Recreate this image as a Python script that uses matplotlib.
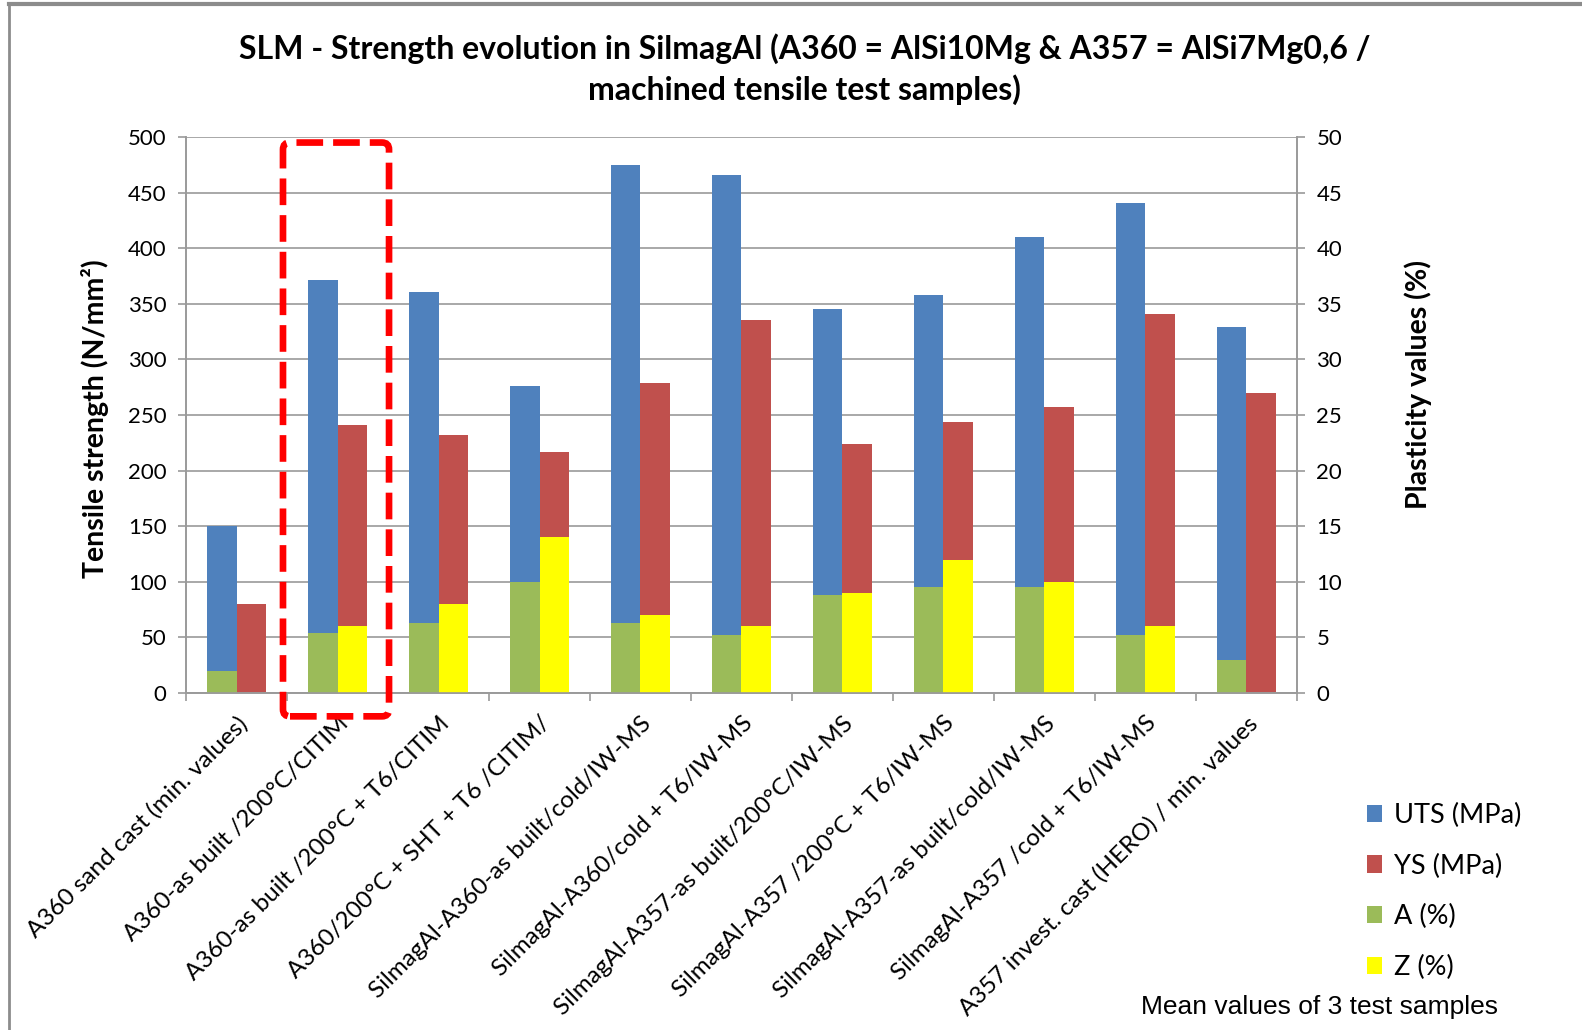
import numpy as np
import matplotlib.pyplot as plt
from matplotlib.patches import FancyBboxPatch
from matplotlib.transforms import IdentityTransform
from matplotlib.lines import Line2D

plt.rcParams['font.family'] = ['Lato', 'DejaVu Sans']

categories = [
    "A360 sand cast (min. values)",
    "A360-as built /200°C/CITIM",
    "A360-as built /200°C + T6/CITIM",
    "A360/200°C + SHT + T6 /CITIM/",
    "SilmagAl-A360-as built/cold/IW-MS",
    "SilmagAl-A360/cold + T6/IW-MS",
    "SilmagAl-A357-as built/200°C/IW-MS",
    "SilmagAl-A357 /200°C + T6/IW-MS",
    "SilmagAl-A357-as built/cold/IW-MS",
    "SilmagAl-A357 /cold + T6/IW-MS",
    "A357 invest. cast (HERO) / min. values",
]
uts = [150, 371, 361, 276, 475, 466, 345, 358, 410, 441, 329]
ys = [80, 241, 232, 217, 279, 335, 224, 244, 257, 341, 270]
elong = [2.0, 5.4, 6.3, 10.0, 6.3, 5.2, 8.8, 9.5, 9.5, 5.2, 3.0]
reduction = [0, 6.0, 8.0, 14.0, 7.0, 6.0, 9.0, 12.0, 10.0, 6.0, 0]

c_uts = '#4F81BD'
c_ys = '#C0504D'
c_a = '#9BBB59'
c_z = '#FFFF00'
grey = '#9a9a9a'

fig = plt.figure(figsize=(15.82, 10.30), dpi=100)
ax = fig.add_axes([0.1176, 0.3272, 0.7022, 0.5398])
ax2 = ax.twinx()

x = np.arange(len(categories))
w = 0.29

b_uts = ax.bar(x - w / 2, uts, w, color=c_uts, label='UTS (MPa)')
b_ys = ax.bar(x + w / 2, ys, w, color=c_ys, label='YS (MPa)')
b_a = ax2.bar(x - w / 2, elong, w, color=c_a, label='A (%)')
b_z = ax2.bar(x + w / 2, reduction, w, color=c_z, label='Z (%)')

ax.set_xlim(-0.5, len(categories) - 0.5)
ax.set_ylim(0, 500)
ax2.set_ylim(0, 50)
ax.set_yticks(np.arange(0, 501, 50))
ax2.set_yticks(np.arange(0, 51, 5))

ax.set_axisbelow(True)
ax.yaxis.grid(True, color=grey, lw=1.2)

# category names centred, tick marks on the boundaries
ax.set_xticks(x)
ax.set_xticklabels(categories, rotation=45, ha='right', va='top',
                   rotation_mode='anchor', fontsize=17.5)
ax.set_xticks(np.arange(-0.5, len(categories)), minor=True)
ax.tick_params(axis='x', which='major', length=0, pad=14)
ax.tick_params(axis='x', which='minor', length=6, color=grey, width=1.2)
ax.tick_params(axis='y', length=6, color=grey, width=1.2, labelsize=16, pad=8)
ax2.tick_params(axis='y', length=6, color=grey, width=1.2, labelsize=16, pad=8)

for a in (ax, ax2):
    a.spines['top'].set_visible(False)
    for s in ('left', 'right', 'bottom'):
        a.spines[s].set_color(grey)
        a.spines[s].set_linewidth(1.2)

ax.set_ylabel('Tensile strength (N/mm²)', fontsize=20.5, fontweight='bold')
ax.yaxis.set_label_coords(-0.069, 0.493)
ax2.set_ylabel('Plasticity values (%)', fontsize=20.5, fontweight='bold')
ax2.yaxis.set_label_coords(1.097, 0.554)

fig.text(0.5085, 0.953, 'SLM - Strength evolution in SilmagAl (A360 = AlSi10Mg & A357 = AlSi7Mg0,6 /',
         ha='center', va='center', fontsize=23, fontweight='bold')
fig.text(0.5085, 0.913, 'machined tensile test samples)',
         ha='center', va='center', fontsize=23, fontweight='bold')

fig.legend(handles=[b_uts, b_ys, b_a, b_z], loc='upper left',
           bbox_to_anchor=(0.857, 0.231), frameon=False, fontsize=19.5,
           handlelength=0.55, handleheight=0.6, handletextpad=0.45,
           labelspacing=0.94, borderaxespad=0)

fig.text(0.7215, 0.022, 'Mean values of 3 test samples', fontsize=19,
         family='Liberation Sans', ha='left', va='center')

# outer chart border (top and left edges)
fig.add_artist(Line2D([0.0057, 1.0], [0.996, 0.996], transform=fig.transFigure,
                      color='#8c8c8c', lw=3))
fig.add_artist(Line2D([0.0057, 0.0057], [0.0, 0.996], transform=fig.transFigure,
                      color='#8c8c8c', lw=2))

# dashed frame around the second category
fig.canvas.draw()
(x0, y0), (x1, y1) = ax.transData.transform([(0.46, -21), (1.51, 495)])
frame = FancyBboxPatch((x0, y0), x1 - x0, y1 - y0,
                       boxstyle='round,pad=0,rounding_size=7',
                       transform=IdentityTransform(), fill=False,
                       ec='#FF0000', lw=4.8, linestyle=(0, (4.0, 1.5)),
                       zorder=10, clip_on=False)
fig.add_artist(frame)

fig.savefig('out.png', dpi=100)
